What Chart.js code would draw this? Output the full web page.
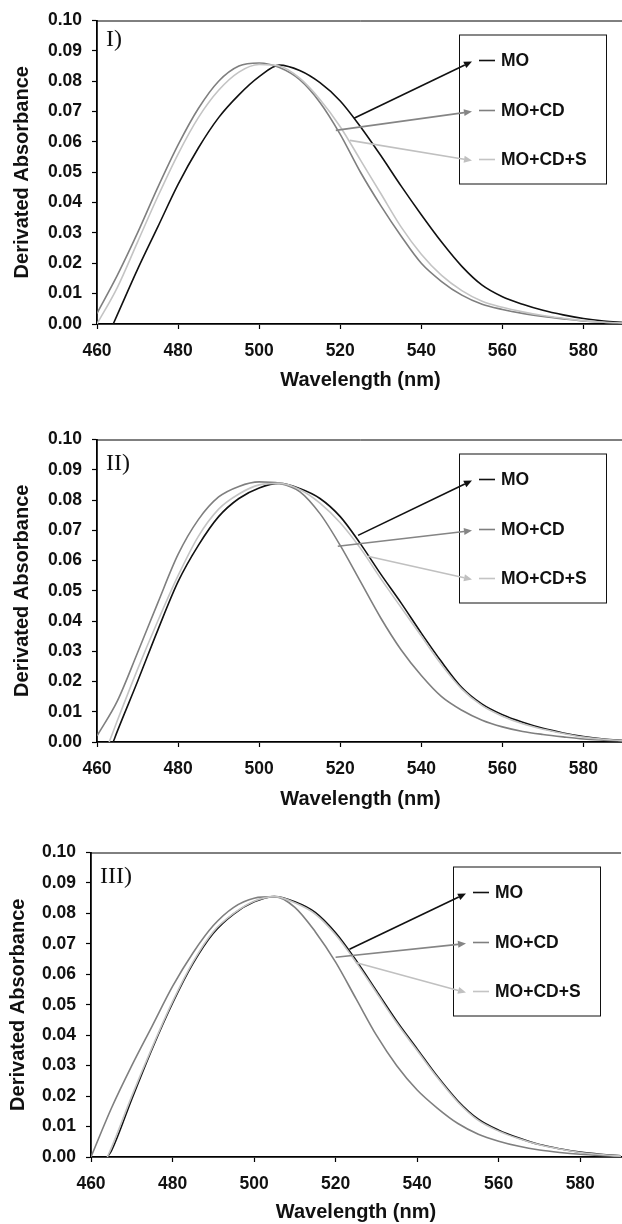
<!DOCTYPE html>
<html>
<head>
<meta charset="utf-8">
<style>
  html, body { margin: 0; padding: 0; background: #fff; overflow: hidden; }
  body { width: 622px; height: 1224px; position: relative; }
  canvas { position: absolute; left: 0; }
</style>
<script src="https://cdn.jsdelivr.net/npm/chart.js"></script>
<title>Derivated absorbance</title>
</head>
<body>
<canvas id="panel1" width="624" height="400" style="top:0px"></canvas>
<canvas id="panel2" width="624" height="400" style="top:419px"></canvas>
<canvas id="panel3" width="622" height="400" style="top:832px"></canvas>

<script>
  // wavelength grids (nm)
  const wlFull = [460, 465, 470, 475, 480, 485, 490, 495, 500, 505, 510, 515, 520, 525, 530, 535, 540, 545, 550, 555, 560, 565, 570, 575, 580, 585, 590];
  const wlLate = [464, 465, 470, 475, 480, 485, 490, 495, 500, 505, 510, 515, 520, 525, 530, 535, 540, 545, 550, 555, 560, 565, 570, 575, 580, 585, 590];
  const wlMid = [463, 465, 470, 475, 480, 485, 490, 495, 500, 505, 510, 515, 520, 525, 530, 535, 540, 545, 550, 555, 560, 565, 570, 575, 580, 585, 590];

  const seriesNames = ['MO', 'MO+CD', 'MO+CD+S'];
  const seriesColors = ['#111111', '#7f7f7f', '#c4c4c4'];
  const xTicks = [460, 480, 500, 520, 540, 560, 580];
  const yTicks = [0, 0.01, 0.02, 0.03, 0.04, 0.05, 0.06, 0.07, 0.08, 0.09, 0.10];

  // panel I
  const p1MO = [0, 0.003, 0.018, 0.032, 0.046, 0.058, 0.068, 0.0755, 0.0815, 0.0853, 0.0835, 0.0795, 0.0735, 0.065, 0.0555, 0.0455, 0.036, 0.027, 0.019, 0.0128, 0.009, 0.0065, 0.0045, 0.003, 0.0018, 0.001, 0.0005];
  const p1MOCD = [0.0035, 0.016, 0.030, 0.045, 0.059, 0.071, 0.080, 0.085, 0.086, 0.0845, 0.0805, 0.073, 0.0625, 0.050, 0.039, 0.029, 0.020, 0.014, 0.0095, 0.0065, 0.0048, 0.0035, 0.0025, 0.0017, 0.001, 0.0006, 0.0003];
  const p1MOCDS = [0, 0.012, 0.027, 0.042, 0.056, 0.068, 0.077, 0.083, 0.0855, 0.085, 0.081, 0.074, 0.065, 0.054, 0.043, 0.032, 0.023, 0.016, 0.011, 0.0075, 0.0055, 0.004, 0.0028, 0.0019, 0.0011, 0.0006, 0.0003];
  const p1Arrows = [[523.4, 0.0678], [518.9, 0.0638], [522.4, 0.0605]];

  // panel II
  const p2MO = [0, 0.0035, 0.020, 0.037, 0.053, 0.065, 0.0745, 0.0805, 0.084, 0.0855, 0.0838, 0.0805, 0.0745, 0.0655, 0.0555, 0.046, 0.036, 0.0265, 0.018, 0.0125, 0.009, 0.0065, 0.0045, 0.003, 0.0018, 0.001, 0.0005];
  const p2MOCD = [0.002, 0.0135, 0.0295, 0.046, 0.062, 0.0735, 0.081, 0.0845, 0.086, 0.0855, 0.0828, 0.0755, 0.065, 0.053, 0.041, 0.0305, 0.022, 0.015, 0.0105, 0.0072, 0.005, 0.0035, 0.0025, 0.0017, 0.001, 0.0006, 0.0003];
  const p2MOCDS = [0, 0.007, 0.024, 0.040, 0.055, 0.068, 0.077, 0.082, 0.085, 0.0855, 0.0835, 0.079, 0.0725, 0.064, 0.054, 0.0445, 0.035, 0.0255, 0.0175, 0.012, 0.0085, 0.006, 0.0042, 0.0028, 0.0016, 0.0009, 0.0004];
  const p2Arrows = [[524.4, 0.0683], [519.4, 0.0647], [526.8, 0.0614]];

  // panel III
  const p3MO = [0, 0.002, 0.019, 0.0355, 0.0505, 0.0635, 0.0735, 0.0798, 0.0838, 0.0855, 0.0838, 0.0803, 0.0736, 0.0646, 0.0546, 0.0446, 0.0355, 0.0264, 0.0184, 0.0124, 0.0088, 0.0062, 0.0041, 0.0027, 0.0016, 0.0009, 0.0004];
  const p3MOCD = [0, 0.016, 0.030, 0.043, 0.056, 0.067, 0.076, 0.082, 0.085, 0.0855, 0.082, 0.074, 0.064, 0.052, 0.040, 0.030, 0.022, 0.016, 0.011, 0.0075, 0.0052, 0.0035, 0.0023, 0.0015, 0.0009, 0.0005, 0.0002];
  const p3MOCDS = [0, 0.003, 0.020, 0.036, 0.051, 0.064, 0.074, 0.080, 0.084, 0.0855, 0.0835, 0.0798, 0.073, 0.064, 0.054, 0.044, 0.035, 0.026, 0.018, 0.012, 0.0085, 0.006, 0.004, 0.0026, 0.0015, 0.0008, 0.0003];
  const p3Arrows = [[523.4, 0.0682], [520.0, 0.0656], [524.9, 0.0639]];

  Chart.defaults.font.family = '"Liberation Sans", Arial, sans-serif';
  Chart.defaults.color = '#111';

  const legendRows = [26, 76, 125];

  function drawArrow(ctx, x1, y1, x2, y2, color) {
    const ang = Math.atan2(y2 - y1, x2 - x1);
    const len = 8, w = 3.5;
    const c = Math.cos(ang), s = Math.sin(ang);
    ctx.strokeStyle = color;
    ctx.fillStyle = color;
    ctx.lineWidth = 1.6;
    ctx.beginPath();
    ctx.moveTo(x1, y1);
    ctx.lineTo(x2 - len * c, y2 - len * s);
    ctx.stroke();
    ctx.beginPath();
    ctx.moveTo(x2, y2);
    ctx.lineTo(x2 - len * c + w * s, y2 - len * s - w * c);
    ctx.lineTo(x2 - len * c - w * s, y2 - len * s + w * c);
    ctx.closePath();
    ctx.fill();
  }

  const decorPlugin = {
    id: 'decor',
    afterDatasetsDraw(chart, args, opts) {
      const { ctx, chartArea: a, scales: { x, y } } = chart;
      ctx.save();
      // top frame line
      ctx.strokeStyle = '#000';
      ctx.lineWidth = 1;
      ctx.beginPath();
      ctx.moveTo(a.left, a.top + 0.5);
      ctx.lineTo(a.right, a.top + 0.5);
      ctx.stroke();

      // panel label
      ctx.fillStyle = '#111';
      ctx.font = '24px "Liberation Serif", "Times New Roman", serif';
      ctx.textBaseline = 'alphabetic';
      ctx.textAlign = 'left';
      ctx.fillText(opts.label, a.left + 9, a.top + opts.labelDrop);

      // legend box
      const bx = a.left + 362, by = a.top + 14, bw = 147, bh = 149;
      ctx.fillStyle = '#fff';
      ctx.fillRect(bx, by, bw, bh);
      ctx.strokeStyle = '#111';
      ctx.lineWidth = 1;
      ctx.strokeRect(bx + 0.5, by + 0.5, bw, bh);

      chart.data.datasets.forEach((ds, i) => {
        const ey = by + legendRows[i];
        ctx.strokeStyle = ds.borderColor;
        ctx.lineWidth = 1.6;
        ctx.beginPath();
        ctx.moveTo(bx + 20, ey);
        ctx.lineTo(bx + 36, ey);
        ctx.stroke();
        ctx.fillStyle = '#111';
        ctx.font = 'bold 17.5px "Liberation Sans", Arial, sans-serif';
        ctx.textBaseline = 'middle';
        ctx.fillText(ds.label, bx + 42, ey + 1);

        const [wx, wy] = opts.arrows[i];
        drawArrow(ctx, x.getPixelForValue(wx), y.getPixelForValue(wy), bx + 13, ey + 1, opts.arrowColors[i]);
      });
      ctx.restore();
    }
  };

  function toPoints(xs, ys) {
    return xs.map((v, i) => ({ x: v, y: ys[i] }));
  }

  function makePanel(id, series, arrows, label, geo) {
    const canvas = document.getElementById(id);
    const tickFont = { size: 17.5, weight: 'bold' };
    const titleFont = { size: 20, weight: 'bold' };
    new Chart(canvas, {
      type: 'line',
      data: {
        datasets: series.map((s, i) => ({
          label: seriesNames[i],
          data: toPoints(s.x, s.y),
          borderColor: seriesColors[i],
          borderWidth: 1.6,
          pointRadius: 0,
          cubicInterpolationMode: 'monotone',
          fill: false,
          order: 2 - i
        }))
      },
      options: {
        responsive: false,
        animation: false,
        layout: { padding: { top: geo.top, left: 0, right: geo.right, bottom: 0 } },
        plugins: {
          legend: { display: false },
          tooltip: { enabled: false },
          decor: {
            label: label,
            labelDrop: geo.labelDrop,
            arrows: arrows,
            arrowColors: ['#111111', '#858585', '#c0c0c0']
          }
        },
        scales: {
          x: {
            type: 'linear',
            min: 460,
            max: 590,
            afterBuildTicks: s => { s.ticks = xTicks.map(v => ({ value: v })); },
            afterFit: s => { s.height = canvas.height - geo.bottom; },
            ticks: { font: tickFont, color: '#111', padding: 12, maxRotation: 0, autoSkip: false },
            grid: { drawOnChartArea: false, tickLength: 5, tickColor: '#000', tickWidth: 1.2 },
            border: { color: '#000', width: 1.8 },
            title: {
              display: true,
              text: 'Wavelength (nm)',
              font: titleFont,
              color: '#111',
              padding: { top: 0, bottom: 8 }
            }
          },
          y: {
            type: 'linear',
            min: 0,
            max: 0.1,
            afterBuildTicks: s => { s.ticks = yTicks.map(v => ({ value: v })); },
            afterFit: s => { s.width = geo.left; },
            ticks: { font: tickFont, color: '#111', padding: 10, callback: v => v.toFixed(2) },
            grid: { drawOnChartArea: false, tickLength: 5, tickColor: '#000', tickWidth: 1.2 },
            border: { color: '#000', width: 1.8 },
            title: {
              display: true,
              text: 'Derivated Absorbance',
              font: titleFont,
              color: '#111',
              padding: { top: geo.titleGap, bottom: 0 }
            }
          }
        }
      },
      plugins: [decorPlugin]
    });
  }

  makePanel('panel1', [
    { x: wlLate, y: p1MO },
    { x: wlFull, y: p1MOCD },
    { x: wlFull, y: p1MOCDS }
  ], p1Arrows, 'I)', { left: 97, top: 20, bottom: 324, right: 0, titleGap: 10, labelDrop: 25 });

  makePanel('panel2', [
    { x: wlLate, y: p2MO },
    { x: wlFull, y: p2MOCD },
    { x: wlMid, y: p2MOCDS }
  ], p2Arrows, 'II)', { left: 97, top: 20, bottom: 323, right: 0, titleGap: 10, labelDrop: 30 });

  makePanel('panel3', [
    { x: wlLate, y: p3MO },
    { x: wlFull, y: p3MOCD },
    { x: wlLate, y: p3MOCDS }
  ], p3Arrows, 'III)', { left: 91, top: 20, bottom: 325, right: 1, titleGap: 6, labelDrop: 30 });
</script>
</body>
</html>
